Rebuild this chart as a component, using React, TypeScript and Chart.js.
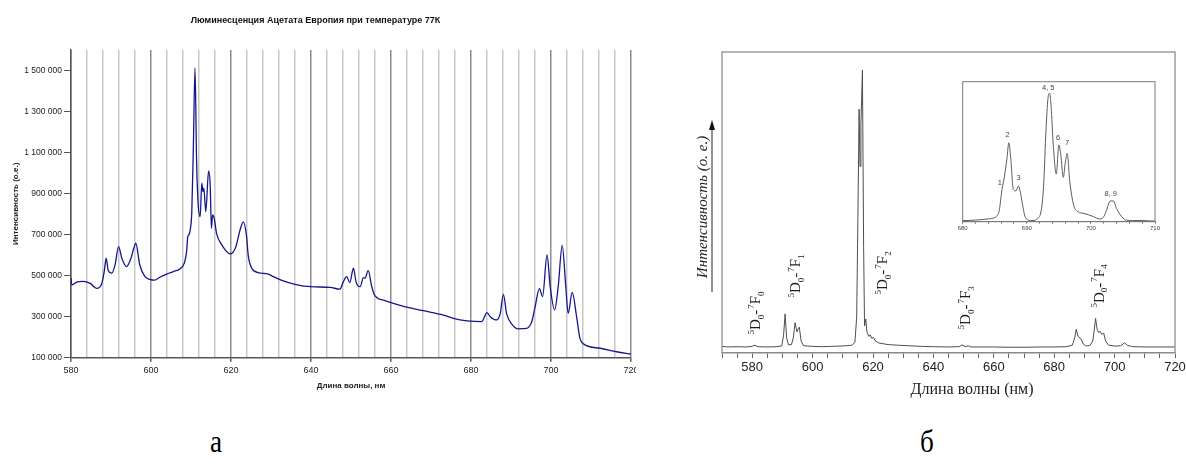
import React, { useEffect, useRef } from 'react';
import { Chart, registerables } from 'chart.js';

Chart.register(...registerables);

const SANS = "'Liberation Sans', Arial, sans-serif";
const SERIF = "'Liberation Serif', 'Times New Roman', serif";

// ---------- Panel (а): Excel-style spectrum ----------
const leftTitle = 'Люминесценция Ацетата Европия при температуре 77К';
const leftXTitle = 'Длина волны, нм';
const leftYTitle = 'Интенсивность (о.е.)';

const leftWavelengths = [
  580, 580.2, 581.4, 583.0, 584.8, 586.4, 587.7, 588.3, 588.8, 589.3,
  590.2, 591.0, 591.9, 592.7, 593.9, 595.0, 595.7, 596.2, 597.2, 598.5,
  599.7, 600.9, 602.2, 603.9, 605.6, 607.2, 608.3, 608.9, 609.2, 609.5,
  609.8, 610.2, 610.6, 611.0, 611.4, 611.8, 612.3, 612.7, 613.0, 613.2,
  613.7, 614.4, 614.8, 615.1, 615.4, 615.8, 616.4, 617.7, 619.8, 621.2,
  622.3, 623.1, 623.9, 624.3, 625.2, 626.8, 629.3, 630.6, 632.7, 636.0,
  640.0, 644.8, 647.2, 648.1, 648.9, 649.7, 650.6, 651.3, 652.3, 653.1,
  653.5, 654.3, 655.2, 656.0, 658.1, 660.6, 664.0, 668.1, 673.1, 675.6,
  679.0, 682.7, 684.0, 684.8, 686.4, 687.3, 688.1, 688.9, 690.2, 691.8,
  693.9, 695.2, 696.0, 697.1, 697.9, 699.0, 699.8, 700.9, 701.8, 702.8,
  703.7, 704.3, 705.3, 706.4, 707.2, 708.3, 712.3, 716.4, 720.0,
];
const leftIntensity = [
  490000, 455000, 468000, 472000, 462000, 438000, 462000, 520000, 585000, 525000,
  512000, 552000, 641000, 585000, 544000, 585000, 634000, 658000, 552000, 495000,
  482000, 478000, 492000, 507000, 520000, 533000, 560000, 617000, 690000, 700000,
  723000, 812000, 1137000, 1512000, 1056000, 845000, 788000, 951000, 910000, 927000,
  812000, 1011000, 942000, 731000, 796000, 780000, 705000, 650000, 606000, 640000,
  725000, 762000, 690000, 600000, 536000, 515000, 508000, 495000, 477000, 458000,
  446000, 443000, 434000, 471000, 495000, 466000, 536000, 466000, 446000, 490000,
  487000, 524000, 446000, 401000, 381000, 365000, 346000, 329000, 308000, 292000,
  280000, 276000, 320000, 300000, 284000, 315000, 409000, 315000, 264000, 241000,
  243000, 276000, 345000, 437000, 398000, 601000, 446000, 333000, 446000, 648000,
  446000, 316000, 418000, 300000, 198000, 165000, 146000, 129000, 118000,
];
const leftXGrid = [
  580, 584, 588, 592, 596, 600, 604, 608, 612, 616, 620, 624, 628, 632, 636, 640, 644, 648,
  652, 656, 660, 664, 668, 672, 676, 680, 684, 688, 692, 696, 700, 704, 708, 712, 716, 720,
];
const leftXLabels = [580, 600, 620, 640, 660, 680, 700, 720];
const leftYTicks = [100000, 300000, 500000, 700000, 900000, 1100000, 1300000, 1500000];

// ---------- Panel (б): spectrum with inset ----------
const rightXTitle = 'Длина волны (нм)';
const rightYTitle = 'Интенсивность (о. е.)';

const rightWavelengths = [
  570, 572, 575, 578, 580, 580.6, 582, 585, 588, 589.8,
  590.4, 590.9, 591.4, 592.0, 593.0, 593.6, 594.2, 594.8, 595.2, 595.6,
  596.2, 597.0, 600, 603, 606, 609, 611, 613, 614.0, 614.6,
  615.0, 615.4, 615.7, 616.0, 616.5, 616.9, 617.2, 617.6, 618.0, 618.6,
  619.1, 619.6, 620.1, 620.8, 622, 625, 628, 632, 636, 640,
  645, 648.5, 649.5, 650.5, 651.5, 652.5, 656, 660, 665, 670,
  675, 680, 684, 686, 686.8, 687.3, 687.9, 688.9, 689.6, 690.5,
  691.8, 692.8, 693.3, 693.7, 694.2, 694.7, 695.2, 695.7, 696.4, 697.0,
  698.0, 700, 702, 703.3, 704.3, 706, 710, 715, 720,
];
const rightIntensity = [
  2.2, 2.0, 2.1, 2.0, 2.2, 2.6, 2.1, 2.0, 2.1, 2.3,
  6, 13, 5, 2.7, 2.8, 5, 10.1, 7, 8.0, 8.6,
  4, 2.4, 2.2, 2.1, 2.2, 2.3, 2.4, 2.6, 3.5, 12,
  45, 81, 62, 76, 94, 35, 9, 11.3, 7, 5.5,
  6, 4.8, 5.2, 4, 3.3, 2.8, 2.6, 2.4, 2.2, 2.1,
  2.0, 2.1, 2.7, 2.1, 2.4, 2.0, 2.0, 2.0, 1.9, 1.9,
  2.0, 2.0, 2.1, 2.6, 5, 7.9, 5.5, 4.7, 3, 2.3,
  2.5, 4, 8, 11.5, 8, 6.8, 7.2, 6.2, 6.6, 4,
  2.6, 2.3, 2.4, 3.4, 2.5, 2.1, 2.0, 2.0, 2.0,
];
const rightXTicks = [
  570, 575, 580, 585, 590, 595, 600, 605, 610, 615, 620, 625, 630, 635, 640, 645,
  650, 655, 660, 665, 670, 675, 680, 685, 690, 695, 700, 705, 710, 715, 720,
];
const rightXLabels = [580, 600, 620, 640, 660, 680, 700, 720];

const transitionFinal = ['0', '1', '2', '3', '4'];
const transitionWavelengths = [581, 594.2, 623.1, 650.6, 694.7];
const transitionHeights = [13.3, 25.6, 26.6, 15, 22.3];

// inset (5D0-7F4 region)
const insetWavelengths = [
  680, 681, 682, 683, 684, 684.6, 685.2, 685.7, 686.1, 686.5,
  686.9, 687.2, 687.5, 687.9, 688.3, 688.7, 689.0, 689.3, 689.7, 690.1,
  690.6, 691.2, 691.7, 692.1, 692.6, 693.0, 693.3, 693.55, 693.8, 694.1,
  694.6, 695.0, 695.3, 695.7, 696.0, 696.3, 696.7, 697.3, 698.0, 698.8,
  699.6, 700.4, 701.4, 702.0, 702.5, 703.0, 703.5, 704.0, 704.8, 705.6,
  706.5, 708, 709, 710,
];
const insetIntensity = [
  0.8, 0.9, 1.2, 1.5, 2.0, 2.4, 3.5, 8, 22, 32,
  45, 56.4, 45, 23, 22, 25.5, 21, 13, 4, 1.5,
  0.8, 0.9, 2.5, 5, 24, 66, 88, 91.7, 82, 57,
  34, 54.8, 48, 31.7, 42, 48.8, 29, 12, 7.1, 6,
  5, 3.6, 1.9, 3.6, 9, 14.8, 14.8, 9.5, 3.6, 1,
  0.8, 0.9, 0.6, 0.5,
];
const insetXTicks = [680, 682, 684, 686, 688, 690, 692, 694, 696, 698, 700, 702, 704, 706, 708, 710];
const insetXLabels = [680, 690, 700, 710];
const insetPeakLabels = ['1', '2', '3', '4, 5', '6', '7', '8, 9'];
const insetPeakWavelengths = [685.8, 687.0, 688.7, 693.35, 694.9, 696.3, 703.1];
const insetPeakHeights = [27.4, 61.9, 31, 95.3, 60, 56, 19.8];

const panelLabels = ['а', 'б'];

const fmtThousands = (v: number) => String(v).replace(/\B(?=(\d{3})+(?!\d))/g, ' ');

function drawTransition(ctx: CanvasRenderingContext2D, x: number, y: number, fin: string) {
  const pieces = [
    { t: '5', k: 'sup' },
    { t: 'D', k: 'big' },
    { t: '0', k: 'sub' },
    { t: '-', k: 'big' },
    { t: '7', k: 'sup' },
    { t: 'F', k: 'big' },
    { t: fin, k: 'sub' },
  ];
  const bigFont = `15px ${SERIF}`;
  const smallFont = `9px ${SERIF}`;
  const widths = pieces.map((p) => {
    ctx.font = p.k === 'big' ? bigFont : smallFont;
    return ctx.measureText(p.t).width + (p.t === '-' ? 1 : 0);
  });
  const total = widths.reduce((a, b) => a + b, 0);
  ctx.save();
  ctx.translate(x, y);
  ctx.rotate(-Math.PI / 2);
  ctx.fillStyle = '#1e1e1e';
  ctx.textBaseline = 'alphabetic';
  ctx.textAlign = 'left';
  let cx = -total / 2;
  pieces.forEach((p, i) => {
    ctx.font = p.k === 'big' ? bigFont : smallFont;
    const by = p.k === 'big' ? 5 : p.k === 'sup' ? -1.5 : 8.5;
    ctx.fillText(p.t, cx, by);
    cx += widths[i];
  });
  ctx.restore();
}

const rightDecor = {
  id: 'rightDecor',
  afterDraw(chart: any) {
    const { ctx, chartArea: a, scales } = chart;
    ctx.save();
    // frame
    ctx.strokeStyle = '#9c9c9c';
    ctx.lineWidth = 1.5;
    ctx.beginPath();
    ctx.moveTo(a.left, a.bottom);
    ctx.lineTo(a.left, a.top);
    ctx.lineTo(a.right, a.top);
    ctx.lineTo(a.right, a.bottom);
    ctx.stroke();
    // transitions
    for (let i = 0; i < transitionFinal.length; i++) {
      const x = scales.x.getPixelForValue(transitionWavelengths[i]);
      const y = scales.y.getPixelForValue(transitionHeights[i]);
      drawTransition(ctx, x, y, transitionFinal[i]);
    }
    // y title with arrow
    const ax = a.left - 10;
    ctx.strokeStyle = '#222';
    ctx.lineWidth = 1;
    ctx.beginPath();
    ctx.moveTo(ax, a.top + 240);
    ctx.lineTo(ax, a.top + 74);
    ctx.stroke();
    ctx.fillStyle = '#111';
    ctx.beginPath();
    ctx.moveTo(ax, a.top + 68);
    ctx.lineTo(ax - 3, a.top + 78);
    ctx.lineTo(ax + 3, a.top + 78);
    ctx.closePath();
    ctx.fill();
    ctx.save();
    ctx.translate(a.left - 19, a.top + 155);
    ctx.rotate(-Math.PI / 2);
    ctx.font = `italic 15px ${SERIF}`;
    ctx.fillStyle = '#222';
    ctx.textAlign = 'center';
    ctx.textBaseline = 'middle';
    ctx.fillText(rightYTitle, 0, 0);
    ctx.restore();
    // x title
    ctx.font = `16px ${SERIF}`;
    ctx.fillStyle = '#222';
    ctx.textAlign = 'center';
    ctx.textBaseline = 'middle';
    ctx.fillText(rightXTitle, a.left + 250, a.bottom + 37);
    ctx.restore();
  },
};

const insetDecor = {
  id: 'insetDecor',
  afterDraw(chart: any) {
    const { ctx, chartArea: a, scales } = chart;
    ctx.save();
    ctx.strokeStyle = '#7a7a7a';
    ctx.lineWidth = 1;
    ctx.strokeRect(a.left, a.top, a.right - a.left, a.bottom - a.top);
    ctx.font = `7.5px ${SANS}`;
    ctx.fillStyle = '#444';
    ctx.textAlign = 'center';
    ctx.textBaseline = 'middle';
    for (let i = 0; i < insetPeakLabels.length; i++) {
      ctx.fillText(
        insetPeakLabels[i],
        scales.x.getPixelForValue(insetPeakWavelengths[i]),
        scales.y.getPixelForValue(insetPeakHeights[i])
      );
    }
    ctx.restore();
  },
};

function leftConfig(): any {
  return {
    type: 'line',
    data: {
      datasets: [
        {
          data: leftWavelengths.map((x, i) => ({ x, y: leftIntensity[i] })),
          borderColor: '#16168c',
          borderWidth: 1.3,
          pointRadius: 0,
          fill: false,
          cubicInterpolationMode: 'monotone',
        },
      ],
    },
    options: {
      animation: false,
      responsive: false,
      maintainAspectRatio: false,
      layout: { padding: { left: 0, right: 5, top: 0, bottom: 0 } },
      plugins: {
        legend: { display: false },
        tooltip: { enabled: false },
        title: {
          display: true,
          text: leftTitle,
          color: '#111',
          font: { family: SANS, size: 9, weight: 'bold' },
          padding: { top: 15, bottom: 24.2 },
        },
      },
      scales: {
        x: {
          type: 'linear',
          min: 580,
          max: 720,
          afterBuildTicks: (s: any) => {
            s.ticks = leftXGrid.map((v) => ({ value: v }));
          },
          afterFit: (s: any) => {
            s.height = 42.3;
            s.paddingLeft = 0;
            s.paddingRight = 0;
          },
          ticks: {
            autoSkip: false,
            maxRotation: 0,
            minRotation: 0,
            padding: 3,
            color: '#222',
            font: { family: SANS, size: 9 },
            callback: (v: any) => (leftXLabels.includes(Number(v)) ? String(v) : ''),
          },
          grid: {
            drawOnChartArea: true,
            lineWidth: 1.5,
            color: (c: any) => (leftXLabels.includes(c.tick && c.tick.value) ? '#8c8c8c' : '#c8c8c8'),
            tickLength: 4,
            tickColor: (c: any) => (leftXLabels.includes(c.tick && c.tick.value) ? '#555' : 'rgba(0,0,0,0)'),
          },
          border: { display: true, color: '#555', width: 1.5 },
          title: {
            display: true,
            text: leftXTitle,
            color: '#222',
            font: { family: SANS, size: 8, weight: 'bold' },
            padding: { top: 0, bottom: 9 },
          },
        },
        y: {
          type: 'linear',
          min: 100000,
          max: 1600000,
          afterBuildTicks: (s: any) => {
            s.ticks = leftYTicks.map((v) => ({ value: v }));
          },
          afterFit: (s: any) => {
            s.width = 71;
          },
          ticks: {
            padding: 2,
            color: '#222',
            font: { family: SANS, size: 8.5 },
            callback: (v: any) => fmtThousands(Number(v)),
          },
          grid: { drawOnChartArea: false, tickLength: 7, color: '#555', lineWidth: 1 },
          border: { display: true, color: '#555', width: 1.5 },
          title: {
            display: true,
            text: leftYTitle,
            color: '#222',
            font: { family: SANS, size: 8, weight: 'bold' },
            padding: { top: 11, bottom: 0 },
          },
        },
      },
    },
  };
}

function rightConfig(): any {
  return {
    type: 'line',
    data: {
      datasets: [
        {
          data: rightWavelengths.map((x, i) => ({ x, y: rightIntensity[i] })),
          borderColor: '#4e4e4e',
          borderWidth: 1,
          pointRadius: 0,
          fill: false,
          tension: 0,
        },
      ],
    },
    options: {
      animation: false,
      responsive: false,
      maintainAspectRatio: false,
      layout: { padding: { left: 62, right: 11, top: 52, bottom: 0 } },
      plugins: { legend: { display: false }, tooltip: { enabled: false }, title: { display: false } },
      scales: {
        x: {
          type: 'linear',
          min: 570,
          max: 720,
          afterBuildTicks: (s: any) => {
            s.ticks = rightXTicks.map((v) => ({ value: v }));
          },
          afterFit: (s: any) => {
            s.height = 67;
            s.paddingLeft = 0;
            s.paddingRight = 0;
          },
          ticks: {
            autoSkip: false,
            maxRotation: 0,
            minRotation: 0,
            padding: 2,
            color: '#222',
            font: { family: SANS, size: 13 },
            callback: (v: any) => (rightXLabels.includes(Number(v)) ? String(v) : ''),
          },
          grid: { drawOnChartArea: false, tickLength: 5, color: '#666', lineWidth: 1 },
          border: { display: true, color: '#8a8a8a', width: 1.5 },
        },
        y: { type: 'linear', display: false, min: 0, max: 100 },
      },
    },
    plugins: [rightDecor],
  };
}

function insetConfig(): any {
  return {
    type: 'line',
    data: {
      datasets: [
        {
          data: insetWavelengths.map((x, i) => ({ x, y: insetIntensity[i] })),
          borderColor: '#5c5c5c',
          borderWidth: 1,
          pointRadius: 0,
          fill: false,
          cubicInterpolationMode: 'monotone',
        },
      ],
    },
    options: {
      animation: false,
      responsive: false,
      maintainAspectRatio: false,
      layout: { padding: { left: 12.7, right: 10, top: 6.7, bottom: 0 } },
      plugins: { legend: { display: false }, tooltip: { enabled: false }, title: { display: false } },
      scales: {
        x: {
          type: 'linear',
          min: 680,
          max: 710,
          afterBuildTicks: (s: any) => {
            s.ticks = insetXTicks.map((v) => ({ value: v }));
          },
          afterFit: (s: any) => {
            s.height = 18.3;
            s.paddingLeft = 0;
            s.paddingRight = 0;
          },
          ticks: {
            autoSkip: false,
            maxRotation: 0,
            minRotation: 0,
            padding: 1,
            color: '#444',
            font: { family: SANS, size: 6 },
            callback: (v: any) => (insetXLabels.includes(Number(v)) ? String(v) : ''),
          },
          grid: { drawOnChartArea: false, tickLength: 2, color: '#777', lineWidth: 1 },
          border: { display: true, color: '#7a7a7a', width: 1 },
        },
        y: { type: 'linear', display: false, min: 0, max: 100 },
      },
    },
    plugins: [insetDecor],
  };
}

export default function App() {
  const leftRef = useRef<HTMLCanvasElement>(null);
  const rightRef = useRef<HTMLCanvasElement>(null);
  const insetRef = useRef<HTMLCanvasElement>(null);

  useEffect(() => {
    const charts: Chart[] = [];
    if (leftRef.current) charts.push(new Chart(leftRef.current, leftConfig()));
    if (rightRef.current) charts.push(new Chart(rightRef.current, rightConfig()));
    if (insetRef.current) charts.push(new Chart(insetRef.current, insetConfig()));
    return () => charts.forEach((c) => c.destroy());
  }, []);

  const labelStyle = (cx: number): React.CSSProperties => ({
    position: 'absolute',
    left: cx - 30,
    top: 425,
    width: 60,
    textAlign: 'center',
    fontFamily: SERIF,
    fontSize: 32,
    lineHeight: '32px',
    color: '#000',
    transform: 'scaleX(0.85)',
  });

  return (
    <div
      style={{
        position: 'fixed',
        left: 0,
        top: 0,
        width: 1186,
        height: 464,
        background: '#fff',
        overflow: 'hidden',
      }}
    >
      <canvas
        ref={leftRef}
        width={636}
        height={400}
        style={{ position: 'absolute', left: 0, top: 0, width: 636, height: 400 }}
      />
      <canvas
        ref={rightRef}
        width={526}
        height={420}
        style={{ position: 'absolute', left: 660, top: 0, width: 526, height: 420 }}
      />
      <canvas
        ref={insetRef}
        width={215}
        height={165}
        style={{ position: 'absolute', left: 950, top: 75, width: 215, height: 165 }}
      />
      <div style={labelStyle(216)}>{panelLabels[0]}</div>
      <div style={labelStyle(927)}>{panelLabels[1]}</div>
    </div>
  );
}
